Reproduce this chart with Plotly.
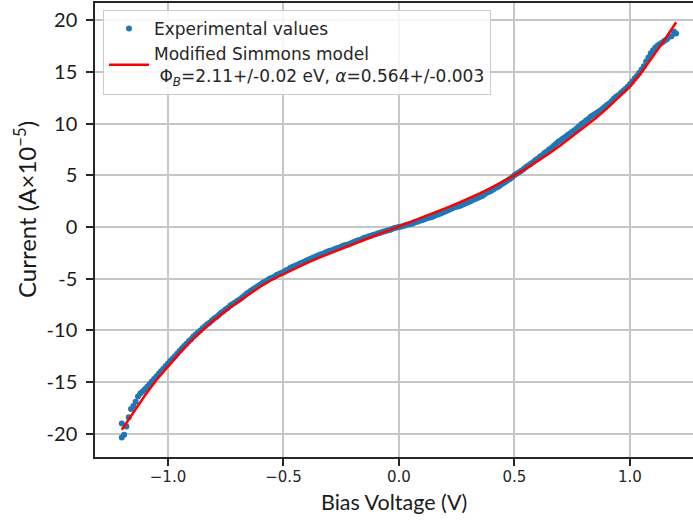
import plotly.graph_objects as go

# ---- data ----
exp_voltage = [
    -1.20, -1.20, -1.19, -1.18, -1.17, -1.16, -1.15, -1.14, -1.13, -1.12, -1.11, -1.10,
    -1.09, -1.08, -1.07, -1.06, -1.05, -1.04, -1.03, -1.02, -1.01, -1.00,
    -0.99, -0.98, -0.97, -0.96, -0.95, -0.94, -0.93, -0.92, -0.91, -0.90,
    -0.89, -0.88, -0.87, -0.86, -0.85, -0.84, -0.83, -0.82, -0.81, -0.80,
    -0.79, -0.78, -0.77, -0.76, -0.75, -0.74, -0.73, -0.72, -0.71, -0.70,
    -0.69, -0.68, -0.67, -0.66, -0.65, -0.64, -0.63, -0.62, -0.61, -0.60,
    -0.59, -0.58, -0.57, -0.56, -0.55, -0.54, -0.53, -0.52, -0.51, -0.50,
    -0.49, -0.48, -0.47, -0.46, -0.45, -0.44, -0.43, -0.42, -0.41, -0.40,
    -0.39, -0.38, -0.37, -0.36, -0.35, -0.34, -0.33, -0.32, -0.31, -0.30,
    -0.29, -0.28, -0.27, -0.26, -0.25, -0.24, -0.23, -0.22, -0.21, -0.20,
    -0.19, -0.18, -0.17, -0.16, -0.15, -0.14, -0.13, -0.12, -0.11, -0.10,
    -0.09, -0.08, -0.07, -0.06, -0.05, -0.04, -0.03, -0.02, -0.01, 0.00,
    0.01, 0.02, 0.03, 0.04, 0.05, 0.06, 0.07, 0.08, 0.09, 0.10,
    0.11, 0.12, 0.13, 0.14, 0.15, 0.16, 0.17, 0.18, 0.19, 0.20,
    0.21, 0.22, 0.23, 0.24, 0.25, 0.26, 0.27, 0.28, 0.29, 0.30,
    0.31, 0.32, 0.33, 0.34, 0.35, 0.36, 0.37, 0.38, 0.39, 0.40,
    0.41, 0.42, 0.43, 0.44, 0.45, 0.46, 0.47, 0.48, 0.49, 0.50,
    0.51, 0.52, 0.53, 0.54, 0.55, 0.56, 0.57, 0.58, 0.59, 0.60,
    0.61, 0.62, 0.63, 0.64, 0.65, 0.66, 0.67, 0.68, 0.69, 0.70,
    0.71, 0.72, 0.73, 0.74, 0.75, 0.76, 0.77, 0.78, 0.79, 0.80,
    0.81, 0.82, 0.83, 0.84, 0.85, 0.86, 0.87, 0.88, 0.89, 0.90,
    0.91, 0.92, 0.93, 0.94, 0.95, 0.96, 0.97, 0.98, 0.99, 1.00,
    1.01, 1.02, 1.03, 1.04, 1.05, 1.06, 1.07, 1.08, 1.09, 1.10,
    1.11, 1.12, 1.13, 1.14, 1.15, 1.16, 1.17, 1.18, 1.19, 1.20,
]
exp_current = [
    -20.35, -19.0, -20.1, -19.3, -18.4, -17.6, -17.3, -16.9, -16.4, -16.1, -15.9, -15.7,
    -15.45, -15.2, -14.95, -14.7, -14.45, -14.2, -13.95, -13.7, -13.45, -13.2,
    -12.95, -12.75, -12.5, -12.25, -12.0, -11.75, -11.5, -11.3, -11.05, -10.85,
    -10.6, -10.4, -10.2, -10.0, -9.8, -9.6, -9.4, -9.25, -9.05, -8.85,
    -8.7, -8.5, -8.3, -8.15, -7.95, -7.8, -7.6, -7.45, -7.3, -7.15,
    -7.0, -6.85, -6.65, -6.45, -6.3, -6.15, -6.0, -5.85, -5.7, -5.55,
    -5.4, -5.3, -5.15, -5.0, -4.9, -4.8, -4.65, -4.55, -4.45, -4.35,
    -4.2, -4.1, -3.95, -3.85, -3.75, -3.65, -3.55, -3.45, -3.35, -3.25,
    -3.15, -3.05, -2.95, -2.85, -2.75, -2.65, -2.6, -2.5, -2.4, -2.3,
    -2.25, -2.15, -2.05, -2.0, -1.9, -1.8, -1.75, -1.7, -1.6, -1.5,
    -1.4, -1.3, -1.25, -1.15, -1.05, -1.0, -0.9, -0.85, -0.75, -0.7,
    -0.6, -0.55, -0.45, -0.4, -0.35, -0.3, -0.2, -0.1, -0.05, 0.0,
    0.05, 0.1, 0.2, 0.25, 0.3, 0.35, 0.45, 0.5, 0.6, 0.65,
    0.75, 0.85, 0.9, 0.95, 1.05, 1.15, 1.2, 1.3, 1.4, 1.5,
    1.6, 1.7, 1.8, 1.9, 1.95, 2.0, 2.1, 2.2, 2.3, 2.4,
    2.5, 2.6, 2.7, 2.8, 2.9, 3.0, 3.15, 3.3, 3.4, 3.5,
    3.65, 3.8, 3.9, 4.05, 4.2, 4.35, 4.5, 4.65, 4.8, 5.0,
    5.15, 5.3, 5.45, 5.6, 5.8, 5.95, 6.1, 6.25, 6.45, 6.6,
    6.8, 6.95, 7.15, 7.3, 7.5, 7.65, 7.85, 8.05, 8.25, 8.4,
    8.55, 8.7, 8.9, 9.05, 9.2, 9.35, 9.55, 9.75, 9.95, 10.1,
    10.3, 10.45, 10.65, 10.8, 10.95, 11.1, 11.25, 11.4, 11.6, 11.8,
    11.95, 12.15, 12.4, 12.6, 12.75, 12.95, 13.15, 13.35, 13.55, 13.8,
    14.05, 14.35, 14.6, 14.9, 15.2, 15.55, 16.0, 16.4, 16.8, 17.1,
    17.35, 17.55, 17.7, 17.85, 18.0, 18.15, 18.4, 18.45, 18.9, 18.7,
]

model_voltage = [-1.20, -1.15, -1.10, -1.05, -1.00, -0.95, -0.90, -0.85, -0.80, -0.75, -0.70,
                 -0.65, -0.60, -0.55, -0.50, -0.45, -0.40, -0.35, -0.30, -0.25, -0.20, -0.15,
                 -0.10, -0.05, 0.00, 0.05, 0.10, 0.15, 0.20, 0.25, 0.30, 0.35, 0.40, 0.45,
                 0.50, 0.55, 0.60, 0.65, 0.70, 0.75, 0.80, 0.85, 0.90, 0.95, 1.00, 1.05,
                 1.10, 1.15, 1.20]
model_current = [-19.6, -17.9, -16.3, -14.8, -13.45, -12.2, -11.0, -9.95, -9.0, -8.1, -7.3,
                 -6.5, -5.75, -5.1, -4.55, -4.0, -3.5, -3.0, -2.55, -2.15, -1.7, -1.25,
                 -0.8, -0.38, 0.05, 0.47, 0.9, 1.35, 1.8, 2.27, 2.75, 3.25, 3.8, 4.38,
                 5.0, 5.65, 6.35, 7.1, 7.9, 8.75, 9.6, 10.5, 11.45, 12.5, 13.6, 14.95,
                 16.5, 18.1, 19.8]

x_tick_values = [-1.0, -0.5, 0.0, 0.5, 1.0]
x_tick_labels = ["\u22121.0", "\u22120.5", "0.0", "0.5", "1.0"]
y_tick_values = [-20, -15, -10, -5, 0, 5, 10, 15, 20]
y_tick_labels = ["-20", "-15", "-10", "-5", "0", "5", "10", "15", "20"]

exp_name = "Experimental values"
model_name = ("Modified Simmons model<br> \u03a6<sub><i>B</i></sub>=2.11+/-0.02 eV, "
              "<i>\u03b1</i>=0.564+/-0.003")

fig = go.Figure()
fig.add_trace(go.Scatter(
    x=exp_voltage, y=exp_current, mode="markers", name=exp_name,
    marker=dict(color="#1f77b4", size=6, line=dict(width=0)),
))
fig.add_trace(go.Scatter(
    x=model_voltage, y=model_current, mode="lines", name=model_name,
    line=dict(color="#ff0000", width=2.5),
))

axis_line = "#262626"
grid_col = "#c6c6c6"

L, T, B, W, H = 95, 3, 64, 693, 521
PW = W - L
PH = H - T - B

fig.update_layout(
    width=W, height=H,
    margin=dict(l=L, r=0, t=T, b=B, autoexpand=False),
    paper_bgcolor="white", plot_bgcolor="white",
    showlegend=True,
    legend=dict(
        x=(103 - L) / PW, y=(H - B - 10) / PH, xanchor="left", yanchor="top",
        bgcolor="rgba(255,255,255,0.85)", bordercolor="#cccccc", borderwidth=1,
        font=dict(family="DejaVu Sans", size=17, color="#262626"),
        itemwidth=40, tracegroupgap=2,
    ),
    xaxis=dict(
        range=[-1.316, 1.273], tickvals=x_tick_values, ticktext=x_tick_labels,
        showgrid=True, gridcolor=grid_col, gridwidth=1.5, zeroline=False,
        showline=True, linecolor=axis_line, linewidth=1.5, mirror=True,
        ticks="outside", ticklen=7, tickwidth=1.5, tickcolor=axis_line,
        tickfont=dict(family="DejaVu Sans", size=15, color="#262626"),
        ticklabelstandoff=-2, automargin=False,
    ),
    yaxis=dict(
        range=[-22.24, 21.66], tickvals=y_tick_values, ticktext=y_tick_labels,
        showgrid=True, gridcolor=grid_col, gridwidth=1.5, zeroline=False,
        showline=True, linecolor=axis_line, linewidth=1.5, mirror=False,
        ticks="outside", ticklen=7, tickwidth=1.5, tickcolor=axis_line,
        tickfont=dict(family="Lato", size=20, color="#1a1a1a"),
        ticklabelstandoff=5, automargin=False,
    ),
    annotations=[
        dict(text="Current (A\u00d710<sup>\u22125</sup>)", xref="paper", yref="paper",
             x=(25 - L) / PW, y=(H - B - 210) / PH, xanchor="center", yanchor="middle",
             textangle=-90, showarrow=False,
             font=dict(family="Lato", size=24, color="#1a1a1a")),
        dict(text="Bias Voltage (V)", xref="paper", yref="paper",
             x=(394 - L) / PW, y=-(502 - (H - B)) / PH, xanchor="center", yanchor="middle",
             showarrow=False,
             font=dict(family="Lato", size=21.5, color="#1a1a1a")),
    ],
)

fig.write_html("out.html",
               config={"displayModeBar": False},
               post_script="document.body.style.margin='0';document.body.style.overflow='hidden';")
